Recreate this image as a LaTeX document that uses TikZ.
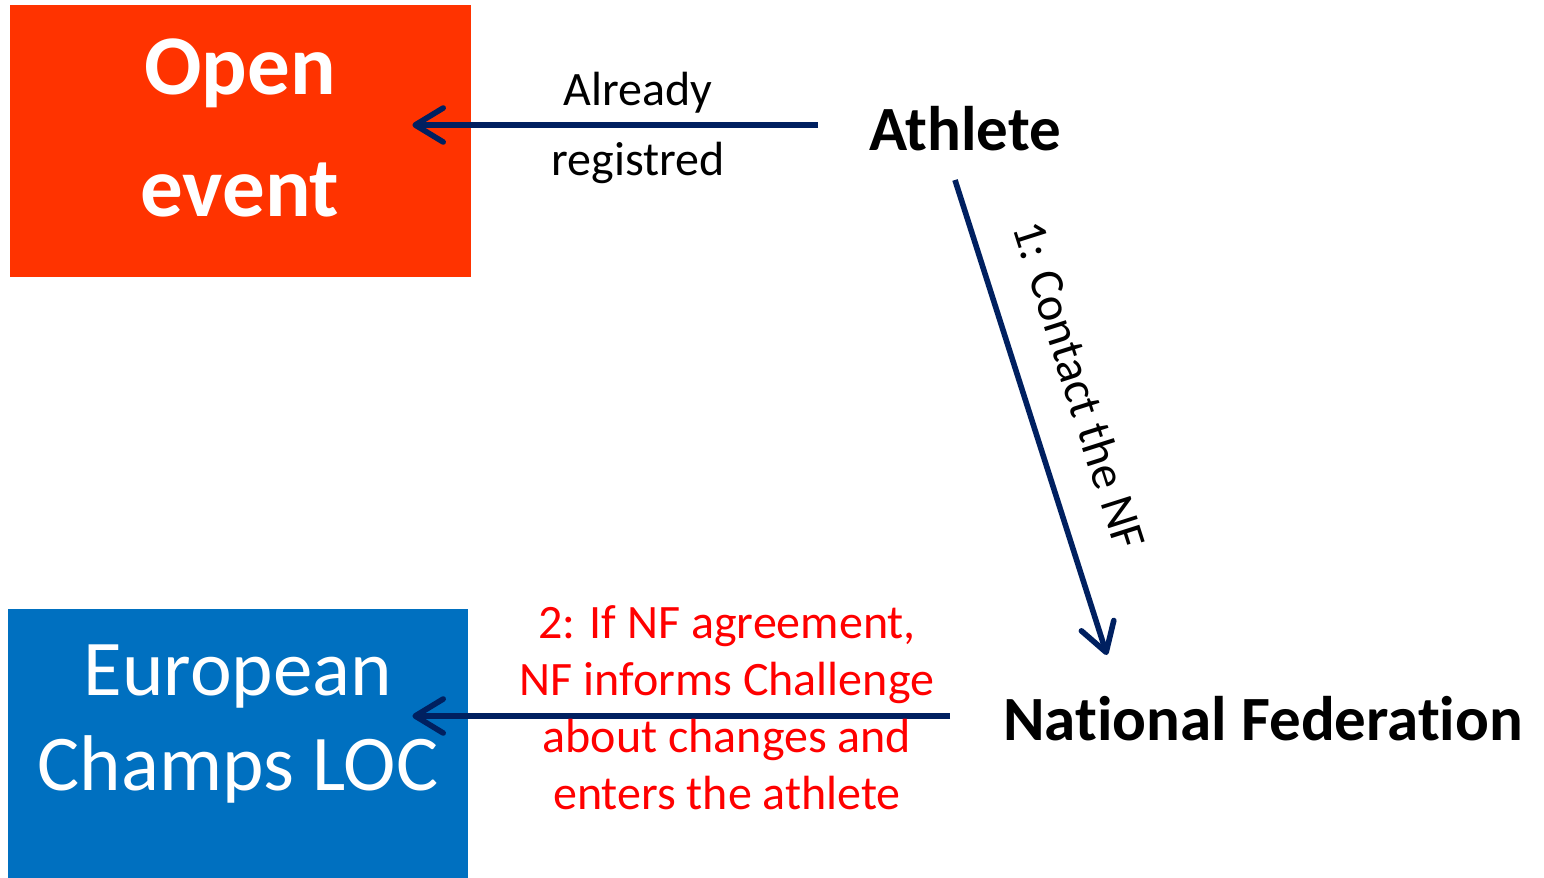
\documentclass[tikz,border=0pt]{standalone}
\usepackage{fontspec}
\setmainfont[RawFeature={-liga;-clig;-dlig;-calt}]{Carlito}
\usetikzlibrary{arrows.meta}
\definecolor{openred}{HTML}{FF3300}
\definecolor{locblue}{HTML}{0070C0}
\definecolor{navy}{HTML}{002060}
\definecolor{notered}{HTML}{FF0000}
\begin{document}
\begin{tikzpicture}[x=0.5pt,y=-0.5pt,
  box/.style={rectangle, inner sep=0pt, draw=none},
  arr/.style={navy, line width=2.8pt,
    -{Straight Barb[length=14pt,width=17pt,line cap=round,line join=round]}},
  small/.style={font=\fontsize{24pt}{35pt}\selectfont, align=center, inner sep=0pt},
  actor/.style={font=\fontsize{31.5pt}{38pt}\selectfont\bfseries, inner sep=0pt, anchor=base west}]
\useasboundingbox (0,0) rectangle (1544,878);
% boxes
\node[box, fill=openred, minimum width=230.5pt, minimum height=136pt] (openbox) at (240.5,141) {};
\node[text=white, font=\fontsize{42.5pt}{61pt}\selectfont\bfseries, align=center, inner sep=0pt] (openlbl) at (240,128) {Open\\event};
\node[box, fill=locblue, minimum width=230pt, minimum height=134.5pt] (eurobox) at (238,743.5) {};
\node[text=white, font=\fontsize{39.5pt}{47.5pt}\selectfont, align=center, inner sep=0pt] (eurolbl) at (238,724) {European\\Champs LOC};
% actors
\node[actor] (athlete) at (869,150) {Athlete};
\node[actor] (nf) at (1003,740) {National Federat\kern0pt ion};
% connector ends
\coordinate (a1s) at (818,125);
\coordinate (a1e) at ([xshift=-29.5pt]openbox.east |- a1s);
\coordinate (a2s) at (955,180);
\coordinate (a2e) at (1107,655);
\coordinate (a3s) at (950,716);
\coordinate (a3e) at ([xshift=-28pt]eurobox.east |- a3s);
% connectors
\draw[arr] (a1s) -- (a1e);
\draw[arr] (a2s) -- (a2e);
\draw[arr] (a3s) -- (a3e);
% labels
\node[small] (lbl1) at (638,128) {Already\\registred};
\node[small, rotate=-72.3] (lbl2) at (1080,385) {1: Contact the NF};
\node[small, text=notered, font=\fontsize{24pt}{28.5pt}\selectfont] (lbl3) at (727,708) {2: If NF agreement,\\NF informs Challenge\\about changes and\\enters the athlete};
\end{tikzpicture}
\end{document}
